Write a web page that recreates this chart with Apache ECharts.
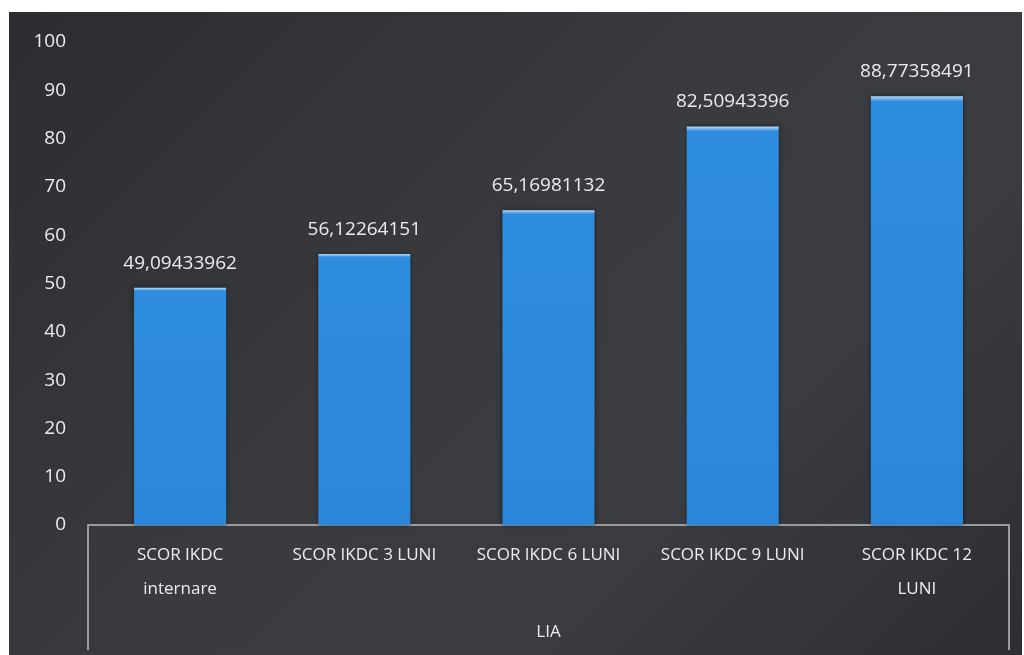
<!DOCTYPE html>
<html>
<head>
<meta charset="utf-8">
<script src="https://cdn.jsdelivr.net/npm/echarts@6/dist/echarts.min.js"></script>
<style>
    * {
        margin: 0;
        padding: 0;
    }
    body {
        background: #fff;
        width: 1024px;
        height: 655px;
        overflow: hidden;
    }
    #chart {
        position: absolute;
        left: 9px;
        top: 12px;
        width: 1013px;
        height: 643px;
        background: linear-gradient(135deg, #2b2d31 0%, #3a3b3f 45%, #3b3c40 70%, #2c2e33 100%);
    }
</style>
</head>
<body>
<div id="chart"></div>
<script>
    const categories = ['SCOR IKDC\ninternare', 'SCOR IKDC 3 LUNI', 'SCOR IKDC 6 LUNI', 'SCOR IKDC 9 LUNI', 'SCOR IKDC 12\nLUNI']
    const groupLabels = ['LIA']
    const scores = [49.09433962, 56.12264151, 65.16981132, 82.50943396, 88.77358491]

    let myChart = echarts.init(document.getElementById('chart'))
    let textColor = '#ececec'
    let font = '"Open Sans", "Liberation Sans", sans-serif'
    let option = {
        backgroundColor: 'transparent',
        grid: {
            left: 79,
            right: 13,
            top: 30,
            bottom: 130
        },
        xAxis: [
            {
                type: 'category',
                data: categories,
                axisLine: {show: true, lineStyle: {color: '#9a9b9e', width: 2}},
                axisTick: {show: false},
                axisLabel: {
                    color: textColor,
                    fontFamily: font,
                    fontSize: 17,
                    lineHeight: 34,
                    margin: 13,
                    interval: 0
                }
            },
            {
                type: 'category',
                position: 'bottom',
                data: groupLabels,
                axisLine: {show: false},
                axisTick: {
                    show: true,
                    alignWithLabel: false,
                    inside: false,
                    length: 125,
                    lineStyle: {color: '#9a9b9e', width: 2}
                },
                axisLabel: {
                    color: textColor,
                    fontFamily: font,
                    fontSize: 17,
                    margin: 99
                }
            }
        ],
        yAxis: {
            type: 'value',
            min: 0,
            max: 100,
            interval: 10,
            axisLine: {show: false},
            axisTick: {show: false},
            splitLine: {show: false},
            axisLabel: {
                color: textColor,
                fontFamily: font,
                fontSize: 19,
                margin: 22
            }
        },
        series: [
            {
                type: 'bar',
                xAxisIndex: 0,
                data: scores,
                barWidth: '50%',
                itemStyle: {
                    color: new echarts.graphic.LinearGradient(0, 0, 0, 1, [
                        {offset: 0, color: '#b9dcf7'},
                        {offset: 0.012, color: '#2f8de0'},
                        {offset: 1, color: '#2a86d8'}
                    ]),
                    shadowColor: 'rgba(0,0,0,0.5)',
                    shadowBlur: 4
                },
                label: {
                    show: true,
                    position: 'top',
                    distance: 15,
                    color: textColor,
                    fontFamily: font,
                    fontSize: 19,
                    formatter: function (p) {
                        return String(p.value).replace('.', ',')
                    }
                }
            }
        ]
    }
    myChart.setOption(option)
</script>
</body>
</html>
